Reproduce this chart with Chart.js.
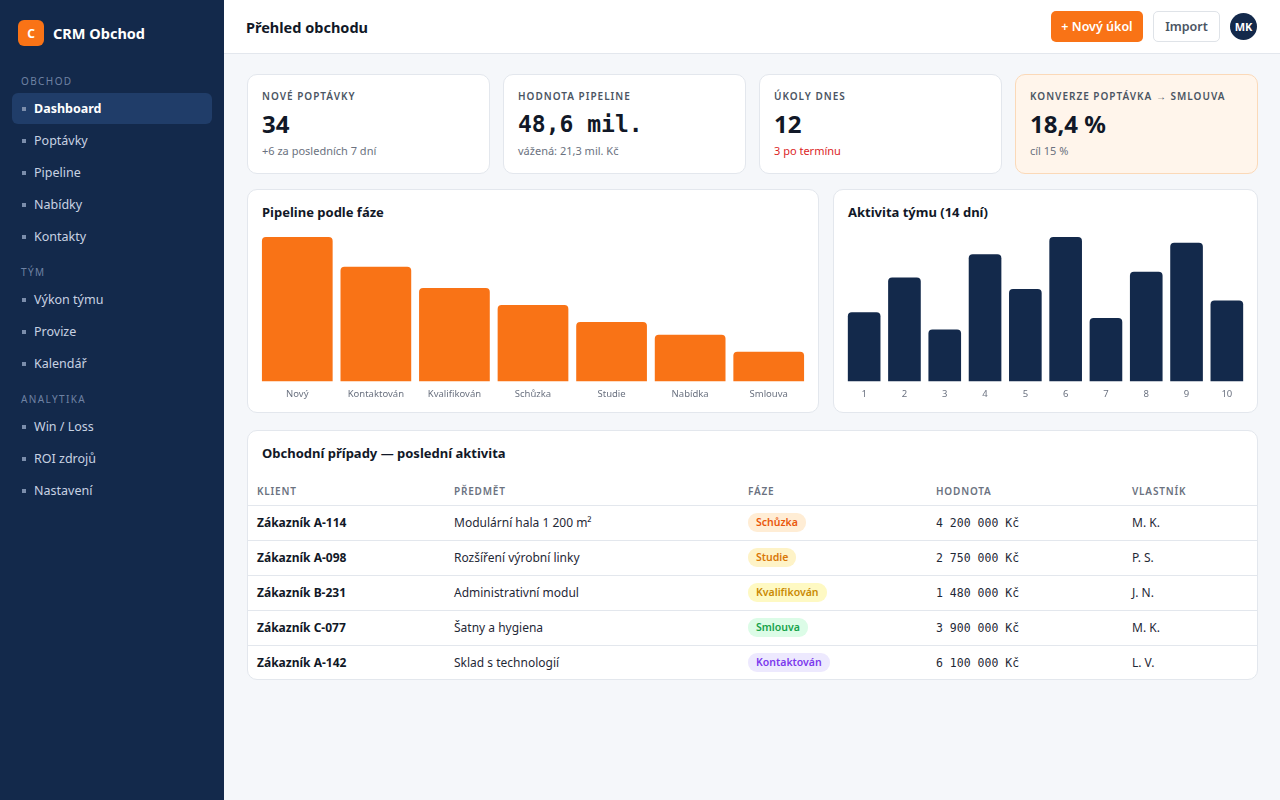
<!DOCTYPE html>
<html lang="cs">
<head>
<meta charset="utf-8">
<title>CRM Obchod – Přehled obchodu</title>
<script src="https://cdn.jsdelivr.net/npm/chart.js@4/dist/chart.umd.min.js"></script>
<style>
  * { box-sizing: border-box; }
  html, body { margin: 0; padding: 0; }
  body { width: 1280px; height: 800px; overflow: hidden; font-family: "Noto Sans", sans-serif; background: #f5f7fa; color: #111827; }
  .sidebar { position: absolute; left: 0; top: 0; width: 224px; height: 800px; background: #13294b; color: #c8d2e2; }
  .brand { position: absolute; left: 18px; top: 20px; display: flex; align-items: center; }
  .logo { width: 26px; height: 26px; border-radius: 6px; background: #f97316; color: #fff; font-weight: 700; font-size: 12px; display: flex; align-items: center; justify-content: center; }
  .brand-name { margin-left: 9px; color: #fff; font-weight: 700; font-size: 14.5px; line-height: 24px; margin-top: -1px; }
  .nav { position: absolute; left: 12px; top: 74px; width: 200px; }
  .sec { font-size: 10px; line-height: 13px; letter-spacing: 1.4px; color: #6f82a3; padding-left: 9px; margin-bottom: 5.5px; position: relative; top: 1px; }
  .sec.next { margin-top: 13.5px; }
  .item { height: 31px; margin-bottom: 1px; display: flex; align-items: center; font-size: 12.5px; border-radius: 6px; color: #c8d2e2; position: relative; padding-left: 22px; }
  .item::before { content: ""; position: absolute; left: 10px; top: 14px; width: 4px; height: 4px; background: #7b8dab; }
  .item.active { background: #203d69; color: #fff; font-weight: 700; }
  .main { position: absolute; left: 224px; top: 0; width: 1056px; height: 800px; }
  .header { height: 54px; background: #fff; border-bottom: 1px solid #e3e7ed; display: flex; align-items: center; padding: 0 23px 0 22px; }
  .header h1 { font-size: 14.5px; font-weight: 700; margin: 0; flex: 1; color: #111827; }
  .btn { height: 31px; border-radius: 5px; font-size: 12.5px; font-weight: 600; display: flex; align-items: center; justify-content: center; }
  .btn.primary { width: 92px; background: #f97316; color: #fff; }
  .btn.ghost { width: 67px; margin-left: 10px; background: #fff; border: 1px solid #dfe3e8; color: #4b5563; }
  .avatar { width: 27px; height: 27px; margin-left: 10px; border-radius: 50%; background: #13294b; color: #fff; font-size: 11px; font-weight: 700; display: flex; align-items: center; justify-content: center; }
  .content { padding: 20px 22px 0 23px; }
  .kpis { display: grid; grid-template-columns: repeat(4, 1fr); gap: 13px; }
  .kpi { height: 100px; background: #fff; border: 1px solid #e3e7ed; border-radius: 10px; padding: 15px 14px 0 14px; }
  .kpi.accent { background: #fff5eb; border-color: #fbd9b8; }
  .kpi .lab { font-size: 10px; line-height: 13px; letter-spacing: 1px; color: #4b5563; font-weight: 600; }
  .kpi .val { font-size: 24px; line-height: 32px; font-weight: 700; margin-top: 5px; color: #111827; }
  .kpi .val.mono { font-family: "DejaVu Sans Mono", monospace; font-size: 23px; }
  .kpi .sub { font-size: 11px; line-height: 16px; margin-top: 3px; color: #6b7280; }
  .kpi .sub.red { color: #dc2626; }
  .charts { display: grid; grid-template-columns: 572px 1fr; gap: 14px; margin-top: 15px; }
  .card { background: #fff; border: 1px solid #e3e7ed; border-radius: 10px; }
  .chart-card { height: 224px; padding: 13px 10px 0 10px; }
  .card-title { font-size: 13px; line-height: 18px; font-weight: 700; color: #111827; padding-left: 4px; }
  .chart-wrap { position: relative; height: 171px; margin-top: 15px; }
  .table-card { margin-top: 17px; height: 250px; padding-top: 13px; overflow: hidden; }
  .table-card .card-title { padding-left: 14px; }
  table { width: 100%; border-collapse: collapse; table-layout: fixed; margin-top: 15px; }
  th { height: 28px; text-align: left; font-size: 10px; letter-spacing: 0.8px; color: #6b7280; font-weight: 600; padding: 0 0 0 9px; border-bottom: 1px solid #e3e7ed; }
  td { height: 35px; font-size: 12px; padding: 0 0 0 9px; border-bottom: 1px solid #e3e7ed; color: #1f2937; }
  tr:last-child td { border-bottom: none; }
  td.client { font-weight: 700; color: #111827; }
  td.money { font-family: "DejaVu Sans Mono", monospace; font-size: 11.5px; }
  .badge { display: inline-block; font-size: 10.5px; font-weight: 600; padding: 2px 8px; border-radius: 9px; line-height: 15px; }
</style>
</head>
<body>
<div class="sidebar">
  <div class="brand"><div class="logo">C</div><div class="brand-name">CRM Obchod</div></div>
  <div class="nav">
    <div class="sec">OBCHOD</div>
    <div class="item active">Dashboard</div>
    <div class="item">Poptávky</div>
    <div class="item">Pipeline</div>
    <div class="item">Nabídky</div>
    <div class="item">Kontakty</div>
    <div class="sec next">TÝM</div>
    <div class="item">Výkon týmu</div>
    <div class="item">Provize</div>
    <div class="item">Kalendář</div>
    <div class="sec next">ANALYTIKA</div>
    <div class="item">Win / Loss</div>
    <div class="item">ROI zdrojů</div>
    <div class="item">Nastavení</div>
  </div>
</div>
<div class="main">
  <div class="header">
    <h1>Přehled obchodu</h1>
    <div class="btn primary">+ Nový úkol</div>
    <div class="btn ghost">Import</div>
    <div class="avatar">MK</div>
  </div>
  <div class="content">
    <div class="kpis">
      <div class="kpi"><div class="lab">NOVÉ POPTÁVKY</div><div class="val">34</div><div class="sub">+6 za posledních 7 dní</div></div>
      <div class="kpi"><div class="lab">HODNOTA PIPELINE</div><div class="val mono">48,6 mil.</div><div class="sub">vážená: 21,3 mil. Kč</div></div>
      <div class="kpi"><div class="lab">ÚKOLY DNES</div><div class="val">12</div><div class="sub red">3 po termínu</div></div>
      <div class="kpi accent"><div class="lab">KONVERZE POPTÁVKA → SMLOUVA</div><div class="val">18,4 %</div><div class="sub">cíl 15 %</div></div>
    </div>
    <div class="charts">
      <div class="card chart-card">
        <div class="card-title">Pipeline podle fáze</div>
        <div class="chart-wrap"><canvas id="pipeChart"></canvas></div>
      </div>
      <div class="card chart-card">
        <div class="card-title">Aktivita týmu (14 dní)</div>
        <div class="chart-wrap"><canvas id="actChart"></canvas></div>
      </div>
    </div>
    <div class="card table-card">
      <div class="card-title">Obchodní případy — poslední aktivita</div>
      <table>
        <colgroup><col style="width:197px"><col style="width:294px"><col style="width:188px"><col style="width:196px"><col></colgroup>
        <thead><tr><th>KLIENT</th><th>PŘEDMĚT</th><th>FÁZE</th><th>HODNOTA</th><th>VLASTNÍK</th></tr></thead>
        <tbody>
          <tr><td class="client">Zákazník A-114</td><td>Modulární hala 1 200 m²</td><td><span class="badge" style="background:#ffedd5;color:#ea580c">Schůzka</span></td><td class="money">4 200 000 Kč</td><td>M. K.</td></tr>
          <tr><td class="client">Zákazník A-098</td><td>Rozšíření výrobní linky</td><td><span class="badge" style="background:#fef3c7;color:#d97706">Studie</span></td><td class="money">2 750 000 Kč</td><td>P. S.</td></tr>
          <tr><td class="client">Zákazník B-231</td><td>Administrativní modul</td><td><span class="badge" style="background:#fef9c3;color:#ca8a04">Kvalifikován</span></td><td class="money">1 480 000 Kč</td><td>J. N.</td></tr>
          <tr><td class="client">Zákazník C-077</td><td>Šatny a hygiena</td><td><span class="badge" style="background:#dcfce7;color:#16a34a">Smlouva</span></td><td class="money">3 900 000 Kč</td><td>M. K.</td></tr>
          <tr><td class="client">Zákazník A-142</td><td>Sklad s technologií</td><td><span class="badge" style="background:#ede9fe;color:#7c3aed">Kontaktován</span></td><td class="money">6 100 000 Kč</td><td>L. V.</td></tr>
        </tbody>
      </table>
    </div>
  </div>
</div>
<script>
const pipelineStages = ["Nový", "Kontaktován", "Kvalifikován", "Schůzka", "Studie", "Nabídka", "Smlouva"];
const pipelineCounts = [34, 27, 22, 18, 14, 11, 7];
const activityDays = ["1", "2", "3", "4", "5", "6", "7", "8", "9", "10"];
const activityCounts = [12, 18, 9, 22, 16, 25, 11, 19, 24, 14];

Chart.defaults.font.family = '"Noto Sans", sans-serif';
Chart.defaults.animation = false;

function barOptions(maxVal) {
  return {
    responsive: true,
    maintainAspectRatio: false,
    layout: { padding: { top: 1, bottom: 0, left: 0, right: 0 } },
    plugins: { legend: { display: false }, tooltip: { enabled: false } },
    scales: {
      x: {
        grid: { display: false, drawTicks: false },
        border: { display: false },
        ticks: { color: "#6b7280", font: { size: 9.5 }, padding: 7, autoSkip: false, maxRotation: 0 }
      },
      y: { display: false, beginAtZero: true, max: maxVal }
    }
  };
}

new Chart(document.getElementById("pipeChart"), {
  type: "bar",
  data: { labels: pipelineStages, datasets: [{ data: pipelineCounts, backgroundColor: "#f97316", borderRadius: 4, borderSkipped: "bottom", barPercentage: 0.9, categoryPercentage: 1.0 }] },
  options: barOptions(Math.max(...pipelineCounts))
});

new Chart(document.getElementById("actChart"), {
  type: "bar",
  data: { labels: activityDays, datasets: [{ data: activityCounts, backgroundColor: "#13294b", borderRadius: 4, borderSkipped: "bottom", barPercentage: 0.9, categoryPercentage: 0.9 }] },
  options: barOptions(Math.max(...activityCounts))
});
</script>
</body>
</html>
